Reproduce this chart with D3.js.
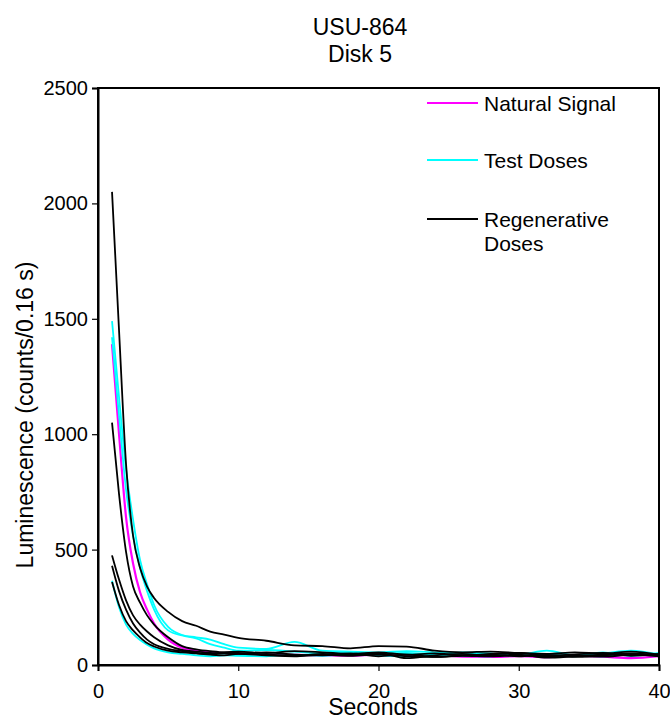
<!DOCTYPE html>
<meta charset="utf-8">
<script src="https://d3js.org/d3.v7.min.js"></script>
<style>
  body { margin: 0; background: #fff; }
  text { font-family: "Liberation Sans", Arial, sans-serif; fill: #000; }
</style>
<svg id="chart" width="670" height="717"></svg>
<script>

// time (seconds) of each sampled point
var seconds = [1, 1.5, 2, 2.5, 3, 3.5, 4, 5, 6, 7, 8, 9, 10, 12, 14, 16, 18, 20, 22, 24, 26, 28, 30, 32, 34, 36, 38, 40];

// natural signal
var natural = [1390, 1000, 640, 440, 315, 240, 180, 110, 75, 62, 55, 52, 48, 45, 44, 42, 40, 45, 38, 42, 36, 35, 38, 34, 40, 36, 30, 38];

// test doses
var test1 = [1490, 1160, 850, 630, 455, 350, 260, 165, 130, 120, 110, 90, 75, 70, 100, 62, 58, 55, 60, 55, 50, 48, 45, 62, 42, 50, 62, 45];
var test2 = [1420, 1080, 760, 560, 420, 320, 240, 150, 128, 115, 90, 75, 62, 65, 58, 50, 56, 48, 52, 45, 55, 50, 40, 45, 38, 55, 40, 52];
var test3 = [365, 250, 175, 135, 108, 88, 72, 55, 48, 42, 38, 42, 40, 38, 45, 40, 48, 42, 36, 44, 40, 38, 45, 38, 42, 38, 46, 40];

// regenerative doses
var regen1 = [2050, 1450, 870, 560, 420, 340, 290, 230, 190, 170, 145, 132, 118, 105, 85, 82, 72, 82, 80, 62, 55, 58, 52, 48, 55, 50, 58, 45];
var regen2 = [1050, 740, 490, 340, 270, 215, 175, 120, 82, 68, 60, 55, 58, 52, 60, 55, 48, 55, 45, 50, 42, 48, 52, 40, 46, 52, 40, 48];
var regen3 = [475, 370, 280, 215, 175, 145, 120, 85, 65, 58, 52, 50, 48, 55, 45, 42, 50, 38, 45, 35, 42, 45, 38, 44, 35, 42, 48, 40];
var regen4 = [430, 320, 240, 180, 140, 110, 90, 70, 60, 52, 48, 55, 52, 45, 40, 48, 44, 52, 30, 42, 48, 40, 45, 32, 38, 45, 50, 42];
var regen5 = [360, 260, 190, 150, 120, 95, 80, 62, 55, 50, 45, 42, 48, 42, 38, 44, 40, 46, 38, 35, 40, 38, 42, 35, 40, 36, 44, 38];

var xTicks = [0, 10, 20, 30, 40];
var yTicks = [0, 500, 1000, 1500, 2000, 2500];

var legendLabels = [["Natural Signal"], ["Test Doses"], ["Regenerative", "Doses"]];
var legendKeys = ["natural", "test", "regen"];

var colors = { natural: "#ff00ff", test: "#00ffff", regen: "#000000" };
var widths = { natural: 2.2, test: 1.8, regen: 1.8 };

var series = [
  { kind: "natural", values: natural },
  { kind: "test", values: test1 },
  { kind: "test", values: test2 },
  { kind: "test", values: test3 },
  { kind: "regen", values: regen1 },
  { kind: "regen", values: regen2 },
  { kind: "regen", values: regen3 },
  { kind: "regen", values: regen4 },
  { kind: "regen", values: regen5 }
];

var svg = d3.select("#chart");

var x = d3.scaleLinear().domain([0, 40]).range([98, 659]);
var y = d3.scaleLinear().domain([0, 2500]).range([665, 88]);

// title
svg.append("text").attr("x", 360).attr("y", 35).attr("text-anchor", "middle")
  .style("font-size", "23px").text("USU-864");
svg.append("text").attr("x", 360).attr("y", 62).attr("text-anchor", "middle")
  .style("font-size", "23px").text("Disk 5");

// curves
var line = d3.line()
  .x(function(d, i) { return x(seconds[i]); })
  .y(function(d) { return y(d); })
  .curve(d3.curveMonotoneX);

svg.append("g")
  .selectAll("path")
  .data(series)
  .enter()
  .append("path")
    .attr("d", function(d) { return line(d.values); })
    .attr("fill", "none")
    .attr("stroke", function(d) { return colors[d.kind]; })
    .attr("stroke-width", function(d) { return widths[d.kind]; })
    .attr("stroke-linejoin", "round");

// frame
svg.append("rect")
  .attr("x", x(0)).attr("y", y(2500))
  .attr("width", x(40) - x(0)).attr("height", y(0) - y(2500))
  .attr("fill", "none").attr("stroke", "#000").attr("stroke-width", 2);

// axes
var xAxis = svg.append("g").attr("transform", "translate(0," + y(0) + ")")
  .call(d3.axisBottom(x).tickValues(xTicks).tickFormat(d3.format("d")).tickSize(6).tickPadding(13));
var yAxis = svg.append("g").attr("transform", "translate(" + x(0) + ",0)")
  .call(d3.axisLeft(y).tickValues(yTicks).tickFormat(d3.format("d")).tickSize(6).tickPadding(4));

[xAxis, yAxis].forEach(function(a) {
  a.select(".domain").attr("stroke", "#000").attr("stroke-width", 2);
  a.selectAll(".tick line").attr("stroke", "#000").attr("stroke-width", 1.2);
  a.selectAll(".tick text").style("font-size", "20px")
    .style("font-family", "'Liberation Sans', Arial, sans-serif").attr("fill", "#000");
});

// axis titles
svg.append("text").attr("x", 373).attr("y", 715).attr("text-anchor", "middle")
  .style("font-size", "23px").text("Seconds");
svg.append("text")
  .attr("transform", "translate(33,415) rotate(-90)")
  .attr("text-anchor", "middle")
  .style("font-size", "23px")
  .text("Luminescence (counts/0.16 s)");

// legend
var legendY = [103, 160, 219];
var legend = svg.append("g")
  .selectAll("g")
  .data(legendKeys)
  .enter()
  .append("g")
    .attr("transform", function(d, i) { return "translate(427," + legendY[i] + ")"; });

legend.append("line")
  .attr("x1", 0).attr("x2", 51).attr("y1", 0).attr("y2", 0)
  .attr("stroke", function(d) { return colors[d]; })
  .attr("stroke-width", function(d) { return widths[d]; });

legend.append("text")
  .attr("x", 57).attr("y", 8)
  .style("font-size", "21px")
  .selectAll("tspan")
  .data(function(d, i) { return legendLabels[i]; })
  .enter()
  .append("tspan")
    .attr("x", 57)
    .attr("dy", function(d, i) { return i === 0 ? 0 : 24; })
    .text(function(d) { return d; });

</script>
